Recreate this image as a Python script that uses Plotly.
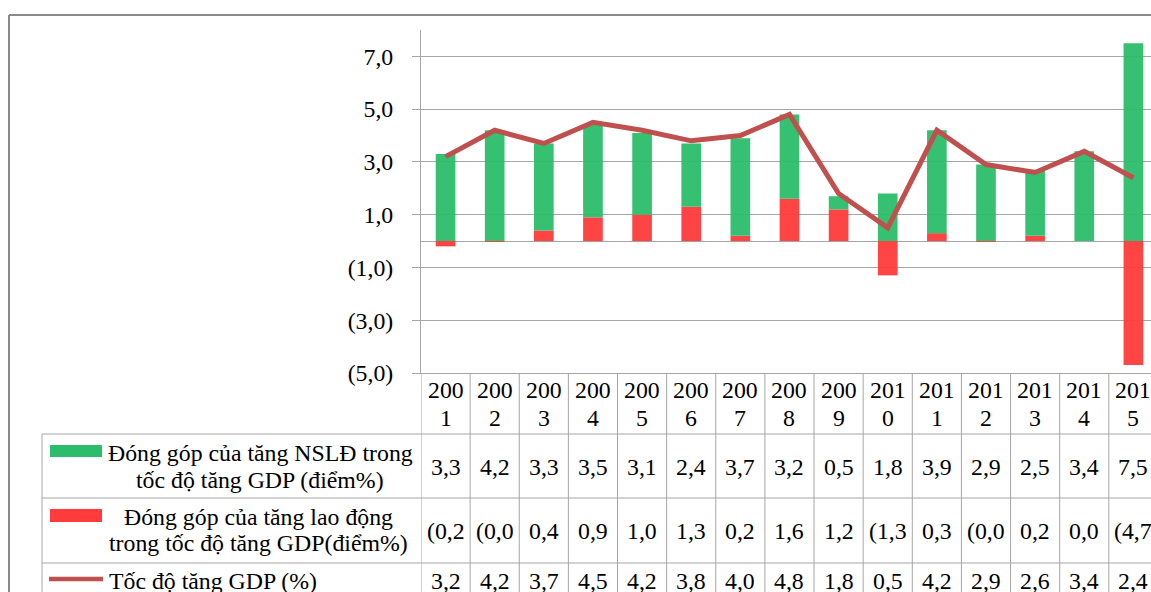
import plotly.graph_objects as go

# ---- data -------------------------------------------------------------
years = ["2001", "2002", "2003", "2004", "2005", "2006", "2007", "2008",
         "2009", "2010", "2011", "2012", "2013", "2014", "2015"]
productivity = [3.3, 4.2, 3.3, 3.5, 3.1, 2.4, 3.7, 3.2, 0.5, 1.8, 3.9, 2.9, 2.5, 3.4, 7.5]
labour = [-0.2, -0.02, 0.4, 0.9, 1.0, 1.3, 0.2, 1.6, 1.2, -1.3, 0.3, -0.02, 0.2, 0.0, -4.7]
gdp_growth = [3.2, 4.2, 3.7, 4.5, 4.2, 3.8, 4.0, 4.8, 1.8, 0.5, 4.2, 2.9, 2.6, 3.4, 2.4]

series_names = [
    ["Đóng góp của tăng NSLĐ trong", "tốc độ tăng GDP (điểm%)"],
    ["Đóng góp của tăng lao động", "trong tốc độ tăng GDP(điểm%)"],
    ["Tốc độ tăng GDP (%)"],
]
y_ticks = [-5, -3, -1, 1, 3, 5, 7]

# ---- style ------------------------------------------------------------
GREEN = "#2BBD6B"
RED = "#FF3B3B"
LINE = "#C0504D"
GRID = "#A6A6A6"
FRAME = "#8A8A8A"
FONT = "Liberation Serif"
FS = 23.8

W, H = 1151, 592
ML, MR, MT, MB = 421, 0, 30, 219
PW, PH = W - ML - MR, H - MT - MB
COL = 49.13  # width of one year column in px


def px(x):
    return (x - ML) / PW


def py(y):
    return (H - MB - y) / PH


def fmt(v, close=True):
    s = f"{abs(v):.1f}".replace(".", ",")
    if v < 0:
        # the narrow data-table column clips the closing parenthesis
        return "(" + s + (")" if close else "")
    return s


n = len(years)
idx = list(range(n))

fig = go.Figure()
fig.add_trace(go.Bar(x=idx, y=labour, marker=dict(color=RED, line=dict(width=0)),
                     opacity=0.95, name="".join(series_names[1])))
fig.add_trace(go.Bar(x=idx, y=productivity, marker=dict(color=GREEN, line=dict(width=0)),
                     opacity=0.95, name="".join(series_names[0])))
fig.add_trace(go.Scatter(x=idx, y=gdp_growth, mode="lines",
                         line=dict(color=LINE, width=5), name=series_names[2][0]))

shapes = []
annotations = []


def hline(x0, x1, y, color=GRID, width=1, xref="paper"):
    shapes.append(dict(type="line", xref=xref, yref="paper",
                       x0=x0, x1=x1, y0=py(y), y1=py(y),
                       line=dict(color=color, width=width)))


def vline(x, y0, y1, color=GRID, width=1, xref="paper"):
    shapes.append(dict(type="line", xref=xref, yref="paper",
                       x0=x, x1=x, y0=py(y0), y1=py(y1),
                       line=dict(color=color, width=width)))


def text(x, y, s, xref="paper", xanchor="center"):
    annotations.append(dict(x=x, y=py(y), xref=xref, yref="paper", text=s,
                            showarrow=False, xanchor=xanchor, yanchor="middle",
                            font=dict(family=FONT, size=FS, color="black")))


# data table: column dividers at year boundaries
for i in range(n + 1):
    vline(i - 0.5, 373, H + 5, xref="x")
# row dividers
for y in (434, 498, 563):
    hline(px(42), 1.05, y)
vline(px(42), 434, H + 5)

# year headers, split across two lines
for i, yr in enumerate(years):
    text(i, 390, yr[:3], xref="x")
    text(i, 418, yr[3:], xref="x")

# values
for i in idx:
    text(i, 467, fmt(productivity[i]), xref="x")
    text(i, 531, fmt(labour[i], close=False), xref="x")
    text(i, 581, fmt(gdp_growth[i]), xref="x")

# legend keys inside the table
shapes.append(dict(type="rect", xref="paper", yref="paper", x0=px(50), x1=px(102),
                   y0=py(457), y1=py(445), fillcolor=GREEN, line=dict(width=0)))
shapes.append(dict(type="rect", xref="paper", yref="paper", x0=px(50), x1=px(102),
                   y0=py(522), y1=py(509), fillcolor=RED, line=dict(width=0)))
shapes.append(dict(type="line", xref="paper", yref="paper", x0=px(49), x1=px(103),
                   y0=py(579), y1=py(579), line=dict(color=LINE, width=4.5)))

text(px(260), 453, series_names[0][0])
text(px(260), 480, series_names[0][1])
text(px(258), 517, series_names[1][0])
text(px(258), 543, series_names[1][1])
text(px(107), 581, series_names[2][0], xanchor="left")

# outer chart frame
hline(px(9), 1.01, 15, color=FRAME, width=2)
vline(px(9), 15, H + 5, color=FRAME, width=2)

fig.update_layout(
    width=W, height=H,
    margin=dict(l=ML, r=MR, t=MT, b=MB, pad=0),
    plot_bgcolor="white", paper_bgcolor="white",
    barmode="relative", bargap=0.6,
    showlegend=False,
    shapes=shapes, annotations=annotations,
    font=dict(family=FONT, size=FS, color="black"),
    xaxis=dict(range=[-0.5, -0.5 + PW / COL], showgrid=False, zeroline=False,
               showticklabels=False, ticks="", showline=True, linecolor=GRID,
               linewidth=1, fixedrange=True),
    yaxis=dict(range=[-5, 8], tickvals=y_ticks, ticktext=[fmt(v) for v in y_ticks],
               showgrid=True, gridcolor=GRID, gridwidth=1,
               zeroline=True, zerolinecolor=GRID, zerolinewidth=1,
               showline=True, linecolor=GRID, linewidth=1,
               ticks="outside", ticklen=8, tickcolor=GRID,
               ticklabelstandoff=14,
               tickfont=dict(family=FONT, size=FS, color="black"), fixedrange=True),
)

fig.write_html("out.html")
